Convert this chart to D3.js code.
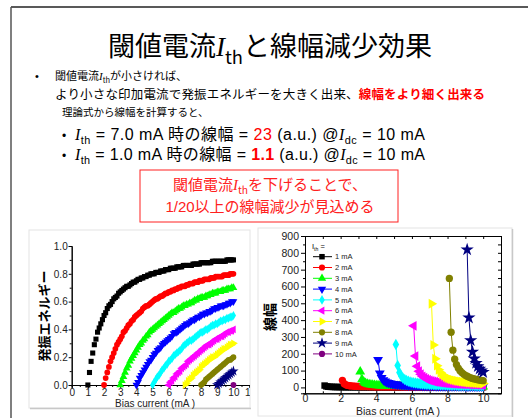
<!DOCTYPE html>
<html><head><meta charset="utf-8">
<script src="https://cdn.jsdelivr.net/npm/d3@7"></script>
<style>body{margin:0;background:#fff}svg{display:block}</style>
</head><body><svg id="c" width="528" height="418"></svg>
<script>
// ---------------- DATA ----------------
const thresholdLabels = ["1 mA","2 mA","3 mA","4 mA","5 mA","6 mA","7 mA","8 mA","9 mA","10 mA"];
const seriesColors = ["#000000","#ff0000","#00ff00","#0000ff","#00ffff","#ff00ff","#ffff00","#808000","#000080","#800080"];
const seriesSymbols = ["square","circle","triUp","triDown","diamond","triLeft","triRight","circle","star","circle"];
const biasCurrent = [1.0,1.1,1.2,1.3,1.4,1.5,1.6,1.7,1.8,1.9,2.0,2.1,2.2,2.3,2.4,2.5,2.6,2.7,2.8,2.9,
3.0,3.1,3.2,3.3,3.4,3.5,3.6,3.7,3.8,3.9,4.0,4.1,4.2,4.3,4.4,4.5,4.6,4.7,4.8,4.9,
5.0,5.1,5.2,5.3,5.4,5.5,5.6,5.7,5.8,5.9,6.0,6.1,6.2,6.3,6.4,6.5,6.6,6.7,6.8,6.9,
7.0,7.1,7.2,7.3,7.4,7.5,7.6,7.7,7.8,7.9,8.0,8.1,8.2,8.3,8.4,8.5,8.6,8.7,8.8,8.9,
9.0,9.1,9.2,9.3,9.4,9.5,9.6,9.7,9.8,9.9,10.0];
const leftXTicks = [0,1,2,3,4,5,6,7,8,9,10,11];
const leftYTicks = [0,0.2,0.4,0.6,0.8,1.0];
const rightXTicks = [0,2,4,6,8,10];
const rightYTicks = [0,100,200,300,400,500,600,700,800,900];

// oscillation energy (left), each series ends at 10.0 mA, starts at threshold
const energyIth1 = [0,.09,.17,.23,.29,.33,.38,.41,.44,.47,.50,.52,.55,.57,.58,.60,.62,.63,.64,.66,
.67,.68,.69,.70,.71,.71,.72,.73,.74,.74,.75,.76,.76,.77,.77,.78,.78,.79,.79,.80,
.80,.80,.81,.81,.81,.82,.82,.82,.83,.83,.83,.84,.84,.84,.84,.85,.85,.85,.85,.86,
.86,.86,.86,.86,.86,.87,.87,.87,.87,.87,.88,.88,.88,.88,.88,.88,.88,.89,.89,.89,
.89,.89,.89,.89,.89,.89,.90,.90,.90,.90,.90];
const energyIth2 = [0,.05,.09,.13,.17,.20,.23,.26,.29,.31,.33,.35,.38,.39,.41,.43,.44,.46,.47,.49,
.50,.51,.52,.53,.55,.56,.57,.57,.58,.59,.60,.61,.62,.62,.63,.64,.64,.65,.66,.66,
.67,.67,.68,.68,.69,.69,.70,.70,.71,.71,.71,.72,.72,.73,.73,.73,.74,.74,.74,.75,
.75,.75,.76,.76,.76,.76,.77,.77,.77,.78,.78,.78,.78,.78,.79,.79,.79,.79,.80,.80,.80];
const energyIth3 = [0,.03,.06,.09,.12,.14,.17,.19,.21,.23,.25,.27,.29,.30,.32,.33,.35,.36,.38,.39,
.40,.41,.42,.43,.44,.45,.46,.47,.48,.49,.50,.51,.52,.52,.53,.54,.55,.55,.56,.57,
.57,.58,.58,.59,.59,.60,.61,.61,.62,.62,.63,.63,.63,.64,.64,.65,.65,.66,.66,.66,
.67,.67,.67,.68,.68,.68,.69,.69,.69,.70,.70];
const energyIth4 = [0,.02,.05,.07,.09,.11,.13,.15,.17,.18,.20,.22,.23,.25,.26,.27,.29,.30,.31,.32,
.33,.34,.35,.37,.38,.38,.39,.40,.41,.42,.43,.44,.44,.45,.46,.47,.47,.48,.49,.49,
.50,.51,.51,.52,.52,.53,.53,.54,.55,.55,.56,.56,.57,.57,.57,.58,.58,.59,.59,.60,.60];
const energyIth5 = [0,.02,.04,.06,.07,.09,.11,.12,.14,.15,.17,.18,.19,.21,.22,.23,.24,.25,.26,.28,
.29,.30,.31,.32,.32,.33,.34,.35,.36,.37,.38,.38,.39,.40,.40,.41,.42,.43,.43,.44,
.44,.45,.46,.46,.47,.47,.48,.48,.49,.49,.50];
const energyIth6 = [0,.02,.03,.05,.06,.08,.09,.10,.12,.13,.14,.15,.17,.18,.19,.20,.21,.22,.23,.24,
.25,.26,.27,.28,.29,.29,.30,.31,.32,.33,.33,.34,.35,.35,.36,.37,.38,.38,.39,.39,.40];
const energyIth7 = [0,.01,.03,.04,.05,.07,.08,.09,.10,.11,.13,.14,.15,.16,.17,.18,.19,.20,.20,.21,
.22,.23,.24,.25,.26,.26,.27,.28,.29,.29,.30];
const energyIth8 = [0,.01,.02,.04,.05,.06,.07,.08,.09,.10,.11,.12,.13,.14,.15,.16,.17,.18,.18,.19,.20];
const energyIth9 = [0,.01,.02,.03,.04,.05,.06,.07,.08,.09,.10];
const energyIth10 = [0];

// linewidth (right), each series starts 0.1 mA above threshold, ends at 10.0 mA
const linewidthIth1 = [11,6,4.3,3.5,3,2.7,2.4,2.3,2.1,2,1.9,1.8,1.8,1.7,1.7,1.6,1.6,1.6,1.5,1.5,
1.5,1.5,1.4,1.4,1.4,1.4,1.4,1.4,1.3,1.3,1.3,1.3,1.3,1.3,1.3,1.3,1.3,1.3,1.3,1.3,
1.2,1.2,1.2,1.2,1.2,1.2,1.2,1.2,1.2,1.2,1.2,1.2,1.2,1.2,1.2,1.2,1.2,1.2,1.2,1.2,
1.2,1.2,1.2,1.2,1.2,1.2,1.1,1.1,1.1,1.1,1.1,1.1,1.1,1.1,1.1,1.1,1.1,1.1,1.1,1.1,
1.1,1.1,1.1,1.1,1.1,1.1,1.1,1.1,1.1,1.1];
const linewidthIth2 = [42,22,15.3,12,10,8.7,7.7,7,6.4,6,5.6,5.3,5.1,4.9,4.7,4.5,4.4,4.2,4.1,4,
3.9,3.8,3.7,3.7,3.6,3.5,3.5,3.4,3.4,3.3,3.3,3.3,3.2,3.2,3.1,3.1,3.1,3.1,3.0,3.0,
3.0,3.0,2.9,2.9,2.9,2.9,2.9,2.8,2.8,2.8,2.8,2.8,2.8,2.7,2.7,2.7,2.7,2.7,2.7,2.7,
2.7,2.6,2.6,2.6,2.6,2.6,2.6,2.6,2.6,2.6,2.6,2.6,2.5,2.5,2.5,2.5,2.5,2.5,2.5,2.5];
const linewidthIth3 = [93,48,33,25.5,21,18,15.9,14.3,13,12,11.2,10.5,9.9,9.4,9,8.6,8.3,8,7.7,7.5,
7.3,7.1,6.9,6.8,6.6,6.5,6.3,6.2,6.1,6,5.9,5.8,5.7,5.6,5.6,5.5,5.4,5.4,5.3,5.3,
5.2,5.1,5.1,5.0,5.0,5.0,4.9,4.9,4.8,4.8,4.8,4.7,4.7,4.7,4.6,4.6,4.6,4.6,4.5,4.5,
4.5,4.5,4.4,4.4,4.4,4.4,4.3,4.3,4.3,4.3];
const linewidthIth4 = [164,84,57.3,44,36,30.7,26.9,24,21.8,20,18.5,17.3,16.3,15.4,14.7,14,13.4,12.9,12.4,12,
11.6,11.3,11.0,10.7,10.4,10.2,9.9,9.7,9.5,9.3,9.2,9.0,8.8,8.7,8.6,8.4,8.3,8.2,8.1,8.0,
7.9,7.8,7.7,7.6,7.6,7.5,7.4,7.3,7.3,7.2,7.1,7.1,7.0,7.0,6.9,6.9,6.8,6.8,6.7,6.7];
const linewidthIth5 = [255,130,88.3,67.5,55,46.7,40.7,36.3,32.8,30,27.7,25.8,24.2,22.9,21.7,20.6,19.7,18.9,18.2,17.5,
16.9,16.4,15.9,15.4,15,14.6,14.3,13.9,13.6,13.3,13.1,12.8,12.6,12.4,12.1,11.9,11.8,11.6,11.4,11.3,
11.1,11.0,10.8,10.7,10.6,10.4,10.3,10.2,10.1,10.0];
const linewidthIth6 = [366,186,126,96,78,66,57.4,51,46,42,38.7,36,33.7,31.7,30,28.5,27.2,26,24.9,24,
23.1,22.4,21.7,21,20.4,19.8,19.3,18.9,18.4,18,17.6,17.3,16.9,16.6,16.3,16,15.7,15.5,15.2,15];
const linewidthIth7 = [497,252,170.3,129.5,105,88.7,77,68.3,61.4,56,51.5,47.8,44.7,42,39.7,37.6,35.8,34.2,32.8,31.5,
30.3,29.3,28.3,27.4,26.6,25.8,25.1,24.5,23.9,23.3];
const linewidthIth8 = [648,328,221.3,168,136,114.7,99.4,88,79.1,72,66.2,61.3,57.2,53.7,50.7,48,45.6,43.6,41.7,40];
const linewidthIth9 = [819,414,279,211.5,171,144,124.7,110.3,99,90];
const linewidthIth10 = [];

const energySeries = [energyIth1,energyIth2,energyIth3,energyIth4,energyIth5,energyIth6,energyIth7,energyIth8,energyIth9,energyIth10];
const linewidthSeries = [linewidthIth1,linewidthIth2,linewidthIth3,linewidthIth4,linewidthIth5,linewidthIth6,linewidthIth7,linewidthIth8,linewidthIth9,linewidthIth10];

// ---------------- DRAW ----------------
const SANS = '"Liberation Sans","Noto Sans CJK JP",Arial,sans-serif';
const JP = '"Noto Sans CJK JP","Liberation Sans",sans-serif';
const SERIF = '"Liberation Serif","Times New Roman",serif';
const svg = d3.select('#c');

function rich(parent, x, y, size, segs, opts) {
  opts = opts || {};
  const t = parent.append('text').attr('x', x).attr('y', y)
    .attr('font-size', size).attr('font-family', opts.family || SANS)
    .attr('text-anchor', opts.anchor || 'start').attr('fill', opts.fill || '#000');
  if (opts.weight) t.attr('font-weight', opts.weight);
  if (opts.len) t.attr('textLength', opts.len).attr('lengthAdjust', 'spacing');
  let shift = 0;
  segs.forEach(s => {
    const ts = t.append('tspan').text(s.t);
    let dy = 0;
    if (s.sub) { dy = size * 0.28 - shift; shift = size * 0.28; ts.attr('font-size', size * 0.68); }
    else if (shift) { dy = -shift; shift = 0; }
    if (dy) ts.attr('dy', dy);
    if (s.it) ts.attr('font-family', SERIF).attr('font-style', 'italic');
    if (s.b) ts.attr('font-weight', 'bold');
    if (s.fill) ts.attr('fill', s.fill);
  });
  return t;
}

// slide frame
svg.append('line').attr('x1', 11).attr('y1', 7).attr('x2', 528).attr('y2', 7).attr('stroke', '#222').attr('stroke-width', 1.5);
svg.append('line').attr('x1', 11).attr('y1', 7).attr('x2', 11).attr('y2', 418).attr('stroke', '#555').attr('stroke-width', 1.5);

// title
rich(svg, 270, 56, 27, [{t:'閾値電流'},{t:'I',it:1},{t:'th',sub:1},{t:'と線幅減少効果'}], {anchor:'middle', family: JP});

// bullet 1
svg.append('text').attr('x', 35).attr('y', 80).attr('font-size', 11).attr('font-family', SANS).text('•');
rich(svg, 55, 80, 11, [{t:'閾値電流'},{t:'I',it:1},{t:'th',sub:1},{t:'が小さければ、'}], {family: JP});
rich(svg, 55, 99, 12.5, [{t:'より小さな印加電流で発振エネルギーを大きく出来、'},{t:'線幅をより細く出来る',b:1,fill:'#ff0000'}], {family: JP, len: 430});
rich(svg, 62, 116, 10.5, [{t:'理論式から線幅を計算すると、'}], {family: JP});

// bullet 2
const rowsB = [
  [{t:'I',it:1},{t:'th',sub:1},{t:' = 7.0 mA 時の線幅 =  '},{t:'23',fill:'#ff0000'},{t:' (a.u.) @'},{t:'I',it:1},{t:'dc',sub:1},{t:' = 10 mA'}],
  [{t:'I',it:1},{t:'th',sub:1},{t:' = 1.0 mA 時の線幅 =  '},{t:'1.1',fill:'#ff0000',b:1},{t:' (a.u.) @'},{t:'I',it:1},{t:'dc',sub:1},{t:' = 10 mA'}]
];
rowsB.forEach((r, i) => {
  svg.append('text').attr('x', 62).attr('y', 140 + i * 20).attr('font-size', 12).attr('font-family', SANS).text('•');
  rich(svg, 75, 140 + i * 20, 16, r, {len: 350});
});

// red box
svg.append('rect').attr('x', 140).attr('y', 170).attr('width', 258).attr('height', 52)
  .attr('fill', 'none').attr('stroke', '#ff2020').attr('stroke-width', 1);
rich(svg, 270, 190, 15, [{t:'閾値電流'},{t:'I',it:1},{t:'th',sub:1},{t:'を下げることで、'}], {anchor:'middle', fill:'#ff2020', family: JP});
rich(svg, 270, 212, 15, [{t:'1/20以上の線幅減少が見込める'}], {anchor:'middle', fill:'#ff2020'});

// symbol helper
function sym(name, size) {
  const m = {square: d3.symbolSquare, circle: d3.symbolCircle, triUp: d3.symbolTriangle, triDown: d3.symbolTriangle,
    diamond: d3.symbolDiamond, triLeft: d3.symbolTriangle, triRight: d3.symbolTriangle, star: d3.symbolStar};
  return d3.symbol().type(m[name]).size(name === 'star' ? size * 1.3 : (name === 'diamond' ? size * 0.9 : size))();
}
function rot(name) {
  return {triDown: 180, triLeft: -90, triRight: 90}[name] || 0;
}

// ---------- left picture ----------
const L = svg.append('g');
L.append('defs').append('clipPath').attr('id', 'clipL').append('rect').attr('x', 29).attr('y', 230).attr('width', 221).attr('height', 178);
L.append('rect').attr('x', 29).attr('y', 230).attr('width', 221).attr('height', 178).attr('fill', '#fff').attr('stroke', '#e4e4e4');
L.append('line').attr('x1', 30).attr('y1', 408.5).attr('x2', 251).attr('y2', 408.5).attr('stroke', '#c8c8c8').attr('stroke-width', 1.5);
const LG = L.append('g').attr('clip-path', 'url(#clipL)');
const xL = d3.scaleLinear().domain([0, 11]).range([71.7, 249.6]);
const yL = d3.scaleLinear().domain([0, 1]).range([385, 246]);
LG.append('g').attr('transform', 'translate(0,385)')
  .call(d3.axisBottom(xL).tickValues(leftXTicks).tickSize(3).tickPadding(0.5).tickFormat(d3.format('d')));
LG.append('g').attr('transform', 'translate(0,385)')
  .call(d3.axisBottom(xL).tickValues(leftXTicks.map(v => v + 0.5)).tickSize(2).tickFormat(''));
LG.append('g').attr('transform', 'translate(71.7,0)')
  .call(d3.axisLeft(yL).tickValues(leftYTicks).tickSize(3).tickPadding(1).tickFormat(d3.format('.1f')));
LG.append('g').attr('transform', 'translate(71.7,0)')
  .call(d3.axisLeft(yL).tickValues(leftYTicks.slice(0, 5).map(v => v + 0.1)).tickSize(2).tickFormat(''));
LG.selectAll('.domain').attr('stroke', '#000');
LG.selectAll('.tick text').attr('font-family', SANS).attr('font-size', 10).attr('fill', '#222');
energySeries.forEach((vals, k) => {
  const xs = biasCurrent.slice(biasCurrent.length - vals.length);
  const path = sym(seriesSymbols[k], 26);
  LG.append('g').selectAll('path').data(vals).enter().append('path')
    .attr('d', path)
    .attr('transform', (v, i) => `translate(${xL(xs[i])},${yL(v)}) rotate(${rot(seriesSymbols[k])})`)
    .attr('fill', seriesColors[k]);
});
L.append('text').attr('transform', 'translate(49,316) rotate(-90)').attr('text-anchor', 'middle')
  .attr('font-family', JP).attr('font-size', 13).attr('font-weight', 'bold').text('発振エネルギー');
L.append('text').attr('x', 155).attr('y', 406.5).attr('text-anchor', 'middle')
  .attr('font-family', SANS).attr('font-size', 10).attr('fill', '#222').text('Bias current (mA )');

// ---------- right picture ----------
const R = svg.append('g');
R.append('rect').attr('x', 258).attr('y', 228).attr('width', 254).attr('height', 188).attr('fill', '#fff').attr('stroke', '#e4e4e4');
R.append('line').attr('x1', 512.5).attr('y1', 229).attr('x2', 512.5).attr('y2', 417).attr('stroke', '#c8c8c8').attr('stroke-width', 1.5);
const xR = d3.scaleLinear().domain([0, 11]).range([305, 501]);
const yR = d3.scaleLinear().domain([-35, 900]).range([393.3, 236]);
R.append('g').attr('transform', 'translate(0,393.3)')
  .call(d3.axisBottom(xR).tickValues(rightXTicks).tickSize(-3).tickPadding(1.5).tickFormat(d3.format('d')));
R.append('g').attr('transform', 'translate(0,393.3)')
  .call(d3.axisBottom(xR).tickValues([1,3,5,7,9,11]).tickSize(-2).tickFormat(''));
R.append('g').attr('transform', 'translate(0,236)')
  .call(d3.axisBottom(xR).tickValues([0,1,2,3,4,5,6,7,8,9,10,11]).tickSize(3).tickFormat(''));
R.append('g').attr('transform', 'translate(305,0)')
  .call(d3.axisLeft(yR).tickValues(rightYTicks).tickSize(4).tickPadding(2).tickFormat(d3.format('d')));
R.append('g').attr('transform', 'translate(305,0)')
  .call(d3.axisLeft(yR).tickValues(rightYTicks.slice(0, 9).map(v => v + 50)).tickSize(2).tickFormat(''));
R.append('g').attr('transform', 'translate(501,0)')
  .call(d3.axisLeft(yR).tickValues(rightYTicks.concat(rightYTicks.slice(0, 9).map(v => v + 50))).tickSize(3).tickFormat(''));
R.selectAll('.domain').attr('stroke', '#000');
R.selectAll('.tick text').attr('font-family', SANS).attr('font-size', 10.5).attr('fill', '#222');
const lineR = d3.line().x(d => xR(d[0])).y(d => yR(d[1]));
linewidthSeries.forEach((vals, k) => {
  const xs = biasCurrent.slice(biasCurrent.length - vals.length);
  const pts = vals.map((v, i) => [xs[i], v]);
  const g = R.append('g');
  g.append('path').attr('d', lineR(pts)).attr('fill', 'none').attr('stroke', seriesColors[k]).attr('stroke-width', 1);
  const path = sym(seriesSymbols[k], 42);
  g.selectAll('path.m').data(pts).enter().append('path').attr('class', 'm')
    .attr('d', path)
    .attr('transform', d => `translate(${xR(d[0])},${yR(d[1])}) rotate(${rot(seriesSymbols[k])})`)
    .attr('fill', seriesColors[k]);
});
// legend
const LEG = R.append('g');
rich(LEG, 312, 249, 7.5, [{t:'I'},{t:'th',sub:1},{t:' ='}]);
thresholdLabels.forEach((lab, k) => {
  const y = 256.7 + k * 10.8;
  LEG.append('line').attr('x1', 313).attr('x2', 332).attr('y1', y).attr('y2', y).attr('stroke', seriesColors[k]).attr('stroke-width', 1);
  LEG.append('path').attr('d', sym(seriesSymbols[k], 30)).attr('transform', `translate(322,${y}) rotate(${rot(seriesSymbols[k])})`).attr('fill', seriesColors[k]);
  LEG.append('text').attr('x', 335).attr('y', y + 2.7).attr('font-family', SANS).attr('font-size', 7.5).attr('fill', '#222').text(lab);
});
R.append('text').attr('transform', 'translate(275,317) rotate(-90)').attr('text-anchor', 'middle')
  .attr('font-family', JP).attr('font-size', 14).attr('font-weight', 'bold').text('線幅');
R.append('text').attr('x', 398).attr('y', 415).attr('text-anchor', 'middle')
  .attr('font-family', SANS).attr('font-size', 10.5).attr('fill', '#222').text('Bias current (mA )');
</script></body></html>
